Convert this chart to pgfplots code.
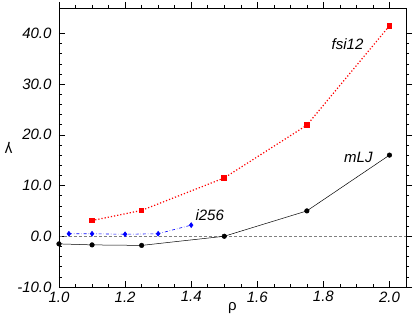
\documentclass[border=0pt]{standalone}
\usepackage{fontspec}
\setmainfont{Liberation Sans}
\usepackage{pgfplots}
\pgfplotsset{compat=1.18}
\begin{document}
\begin{tikzpicture}
\pgfplotsset{
  base/.style={
    scale only axis, width=347pt, height=279pt,
    xmin=1.0, xmax=2.05, ymin=-10, ymax=45,
    xtick={1.0,1.2,...,2.0}, ytick={-10,0,...,40},
    minor x tick num=3, minor y tick num=4,
    major tick length=6pt, minor tick length=3pt,
    every tick/.style={black, line width=0.5pt},
    axis line style={black, line width=0.6pt},
  }
}
\begin{axis}[base,
    xtick pos=bottom, ytick pos=left, tick align=inside,
    /pgf/number format/assume math mode=true,
    xticklabel style={font=\fontsize{15}{17}\selectfont\itshape, yshift=-1pt, /pgf/number format/.cd, fixed, fixed zerofill, precision=1},
    yticklabel style={font=\fontsize{15}{17}\selectfont\itshape, xshift=-4pt, /pgf/number format/.cd, fixed, fixed zerofill, precision=1},
    xlabel={ρ}, ylabel={γ},
    xlabel style={font=\fontsize{15}{17}\selectfont, yshift=7pt},
    ylabel style={font=\fontsize{15}{17}\selectfont, at={(axis description cs:-0.145,0.5)}, anchor=center, rotate=90},
    clip=false,
]
\addplot[gray, densely dashed, line width=0.6pt] coordinates {(1.0,0) (2.05,0)};
\addplot[black, line width=0.5pt, mark=*, mark size=2.3pt] coordinates {
  (1.0,-1.5) (1.1,-1.7) (1.25,-1.8) (1.5,0.0) (1.75,5.0) (2.0,16.0)
};
\addplot[red, dotted, line width=1.2pt, mark=square*, mark size=2.2pt, mark options={solid}] coordinates {
  (1.1,3.1) (1.25,5.1) (1.5,11.5) (1.75,21.9) (2.0,41.5)
};
\addplot[blue, dash dot, line width=0.6pt, mark=diamond*, mark size=2.4pt, mark options={solid}] coordinates {
  (1.03,0.5) (1.1,0.5) (1.2,0.4) (1.3,0.5) (1.4,2.2)
};
\node[font=\fontsize{15}{17}\selectfont\itshape] at (axis cs:1.873,37.9) {fsi12};
\node[font=\fontsize{15}{17}\selectfont\itshape] at (axis cs:1.906,15.6) {mLJ};
\node[font=\fontsize{15}{17}\selectfont\itshape] at (axis cs:1.456,4.1) {i256};
\end{axis}
\begin{axis}[base,
    xtick pos=top, ytick pos=right, tick align=outside,
    xticklabels={}, yticklabels={}, axis lines=box,
]
\end{axis}
\pgfresetboundingbox
\path (current axis.south west) ++(-59pt,-36pt) rectangle ([shift={(9pt,8pt)}]current axis.north east);
\end{tikzpicture}
\end{document}
